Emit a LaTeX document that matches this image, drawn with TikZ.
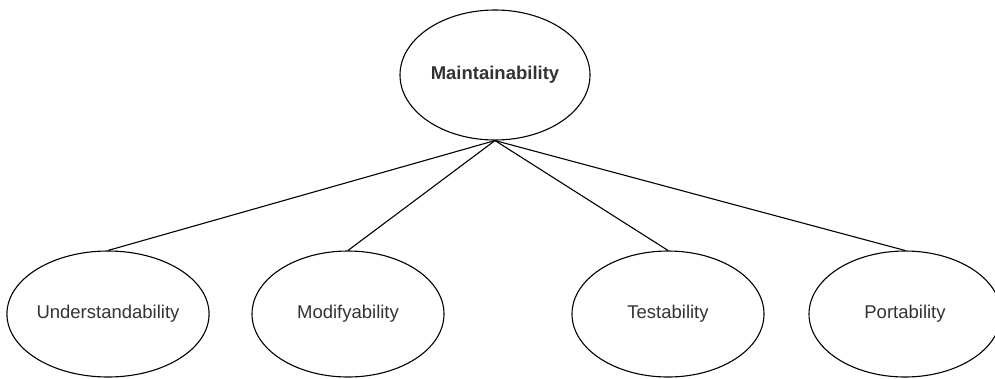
\documentclass[tikz,border=0pt]{standalone}
\usepackage{fontspec}
\setmainfont{Liberation Sans}
\usetikzlibrary{shapes.geometric}
\begin{document}
\begin{tikzpicture}[x=1pt,y=-1pt,
  oval/.style={draw, ellipse, line width=1.1pt, minimum width=192pt, minimum height=126pt, inner sep=0pt, font=\fontsize{18.5}{22}\selectfont, text=black!80},
  link/.style={draw, line width=1.1pt}]
\useasboundingbox (0,0) rectangle (995,378);
\node[oval, minimum width=190pt, minimum height=130pt, font=\fontsize{18.5}{22}\selectfont\bfseries] (m) at (495,75) {Maintainability};
\node[oval] (u) at (108,314) {Understandability};
\node[oval] (mo) at (348,314) {Modifyability};
\node[oval] (t) at (668,314) {Testability};
\node[oval] (p) at (905,314) {Portability};
\draw[link] (m.south) -- (u.north);
\draw[link] (m.south) -- (mo.north);
\draw[link] (m.south) -- (t.north);
\draw[link] (m.south) -- (p.north);
\end{tikzpicture}
\end{document}
